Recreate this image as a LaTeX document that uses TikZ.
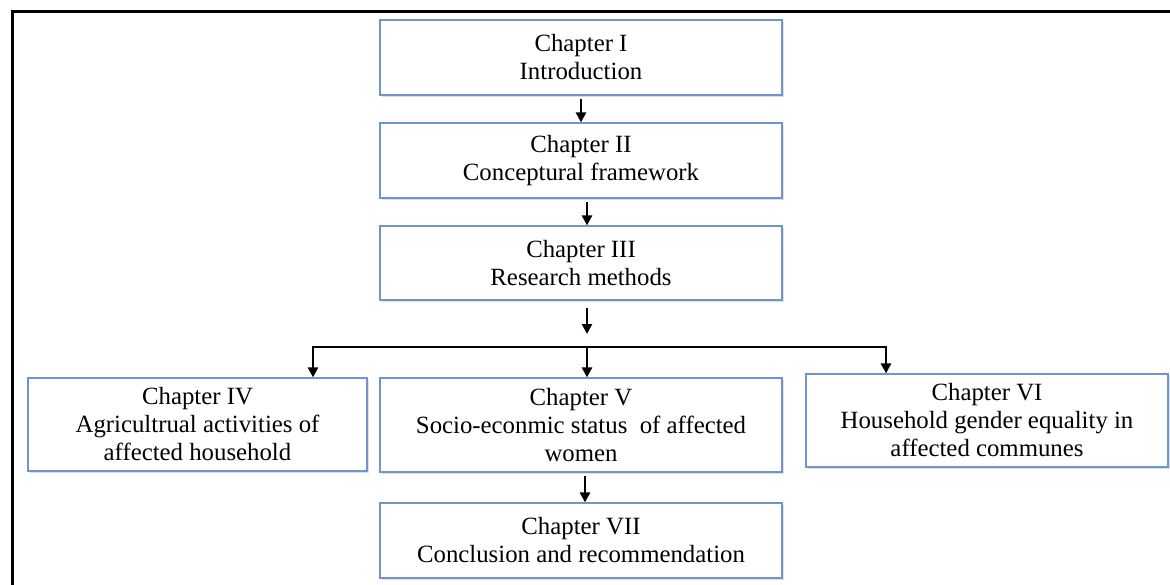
\documentclass[tikz,border=0pt]{standalone}
\usepackage{fontspec}
\setmainfont{Liberation Serif}
\usetikzlibrary{arrows.meta,shadows}
\definecolor{boxblue}{HTML}{6F95CC}
\tikzset{
  chapbox/.style={draw=boxblue, line width=0.9pt, fill=white, align=center,
    font=\fontsize{18.6}{21}\selectfont, inner sep=0pt,
    drop shadow={shadow xshift=1.2pt, shadow yshift=-1.2pt, opacity=0.25}},
  flow/.style={line width=2.2pt, -{Triangle[length=7.5pt,width=7.5pt]}},
  rail/.style={line width=2.2pt}
}
\begin{document}
\begin{tikzpicture}[x=0.75pt, y=-0.75pt]
  \useasboundingbox (0,0) rectangle (1170,585);
  % frame around the page
  \draw[line width=1.9pt] (12.5,585) -- (12.5,11.5) -- (1170,11.5);

  % chapter boxes
  \node[chapbox, minimum width=402*0.75pt, minimum height=75*0.75pt] (c1) at (581,57.5)
    {Chapter I\\Introduction};
  \node[chapbox, minimum width=402*0.75pt, minimum height=75*0.75pt] (c2) at (581,160.5)
    {Chapter II\\Conceptural framework};
  \node[chapbox, minimum width=402*0.75pt, minimum height=74*0.75pt] (c3) at (581,263)
    {Chapter III\\Research methods};
  \node[chapbox, minimum width=339*0.75pt, minimum height=93*0.75pt] (c4) at (197.5,424.5)
    {Chapter IV\\Agricultrual activities of\\affected household};
  \node[chapbox, minimum width=402*0.75pt, minimum height=94*0.75pt] (c5) at (581,425)
    {Chapter V\\Socio-econmic status\ \ of affected\\women};
  \node[chapbox, minimum width=362*0.75pt, minimum height=93*0.75pt] (c6) at (987,420.5)
    {Chapter VI\\Household gender equality in\\affected communes};
  \node[chapbox, minimum width=402*0.75pt, minimum height=75*0.75pt] (c7) at (581,540.5)
    {Chapter VII\\Conclusion and recommendation};

  % junction points of the branching rail
  \coordinate (jm) at (587,347);
  \coordinate (jl) at (313,347);
  \coordinate (jr) at (886,347);

  % connectors
  \draw[flow] ([yshift=-3*0.75pt]c1.south) -- (c2.north);
  \draw[flow] ([xshift=6*0.75pt, yshift=-3*0.75pt]c2.south) -- ([xshift=6*0.75pt]c3.north);
  \draw[flow] ([xshift=6*0.75pt, yshift=-7*0.75pt]c3.south) -- ([yshift=13*0.75pt]jm);
  \draw[rail] ([xshift=-1.1pt]jl) -- ([xshift=1.1pt]jr);
  \draw[flow] ([yshift=1pt]jl) -- (jl |- c4.north);
  \draw[flow] (jm) -- (jm |- c5.north);
  \draw[flow] ([yshift=1pt]jr) -- (jr |- c6.north);
  \draw[flow] ([xshift=4*0.75pt, yshift=-3*0.75pt]c5.south) -- ([xshift=4*0.75pt]c7.north);
\end{tikzpicture}
\end{document}
